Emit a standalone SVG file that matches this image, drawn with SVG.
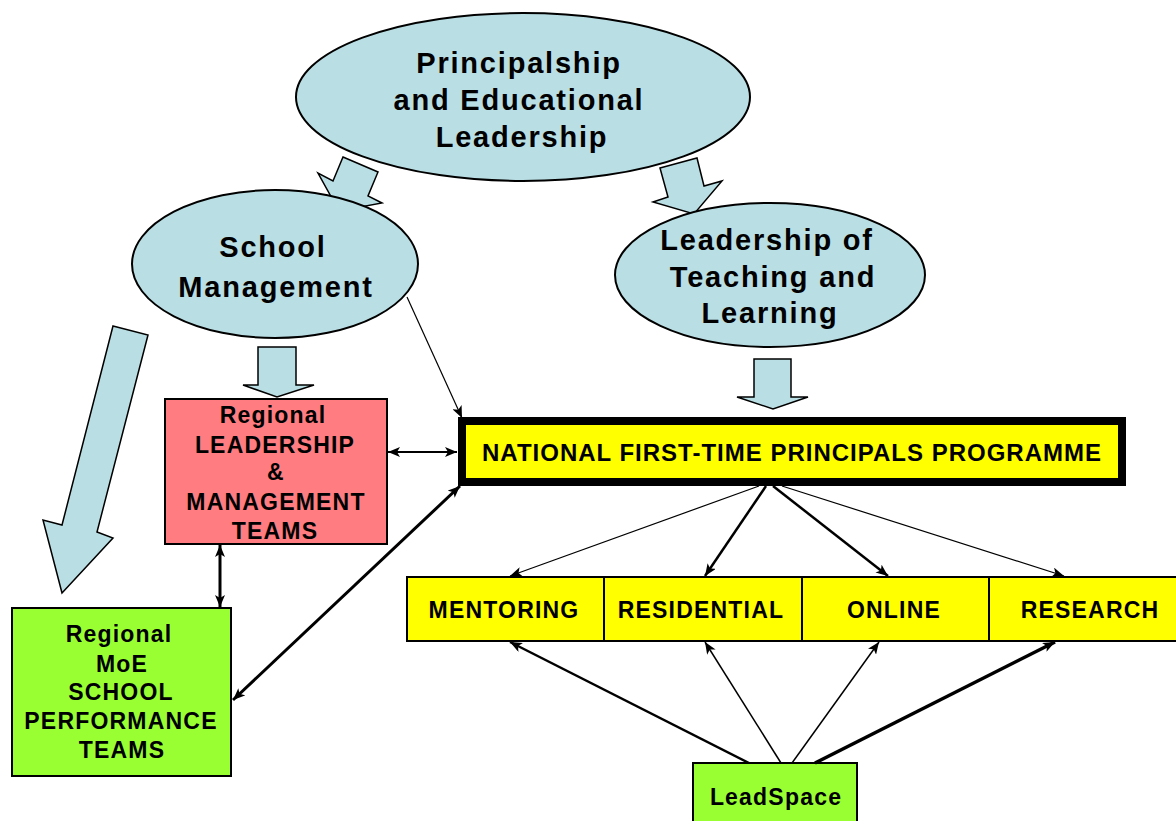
<svg xmlns="http://www.w3.org/2000/svg" width="1176" height="821" viewBox="0 0 1176 821">
<style>
.ell{fill:#B9DEE3;stroke:#000;stroke-width:2}
.blk{fill:#B9DEE3;stroke:#000;stroke-width:1.5;stroke-linejoin:miter}
.big{font-family:"Liberation Sans",Arial,sans-serif;font-weight:bold;font-size:29px;letter-spacing:1.8px;text-anchor:middle;fill:#000}
.sm{font-family:"Liberation Sans",Arial,sans-serif;font-weight:bold;font-size:23px;letter-spacing:1.2px;text-anchor:middle;fill:#000}
.box{stroke:#000;stroke-width:2}
.ln{fill:none;stroke:#000}
</style>
<defs>
<marker id="ah" viewBox="0 0 12 10" refX="12" refY="5" markerWidth="12" markerHeight="10" markerUnits="userSpaceOnUse" orient="auto-start-reverse">
<path d="M0,0 L12,5 L0,10 L3,5 z" fill="#000"/>
</marker>
</defs>

<g id="blockarrows">
<polygon class="blk" points="343,157 378,172 368,196 382,203 339,211 318,173 333,181"/>
<polygon class="blk" points="660,168 697,158 704,186 722,181 694,214 653,202 668,197"/>
<polygon class="blk" points="258,347 296,347 296,385 314,385 277,397 243,385 258,385"/>
<polygon class="blk" points="754,359 791,359 791,397 808,397 773,409 737,397 754,397"/>
<polygon class="blk" points="113,326 148,335 97,532 113,538 62,593 43,520 62,525"/>
</g>

<g id="principalship">
<ellipse class="ell" cx="523" cy="97" rx="227" ry="84"/>
<text class="big" x="519" y="73">Principalship</text>
<text class="big" x="519" y="110">and Educational</text>
<text class="big" x="522" y="147">Leadership</text>
</g>

<g id="school-management">
<ellipse class="ell" cx="275" cy="264" rx="143" ry="74"/>
<text class="big" x="273" y="257">School</text>
<text class="big" x="276" y="297">Management</text>
</g>

<g id="leadership-tl">
<ellipse class="ell" cx="770" cy="275" rx="155" ry="72"/>
<text class="big" x="767" y="250">Leadership of</text>
<text class="big" x="773" y="287">Teaching and</text>
<text class="big" x="770" y="323">Learning</text>
</g>

<g id="regional-leadership">
<rect class="box" x="165" y="399" width="222" height="145" fill="#FF7C80"/>
<text class="sm" x="273" y="423">Regional</text>
<text class="sm" x="275" y="453">LEADERSHIP</text>
<text class="sm" x="276" y="480">&amp;</text>
<text class="sm" x="276" y="510">MANAGEMENT</text>
<text class="sm" x="275" y="539">TEAMS</text>
</g>

<g id="regional-moe">
<rect class="box" x="12" y="608" width="219" height="168" fill="#99FF33"/>
<text class="sm" x="119" y="642">Regional</text>
<text class="sm" x="122" y="672">MoE</text>
<text class="sm" x="121" y="700">SCHOOL</text>
<text class="sm" x="121" y="729">PERFORMANCE</text>
<text class="sm" x="122" y="758">TEAMS</text>
</g>

<g id="nftpp">
<rect x="462" y="421" width="660" height="61" fill="#FFFF00" stroke="#000" stroke-width="8"/>
<text class="sm" x="792" y="461" style="font-size:24px;letter-spacing:1px">NATIONAL FIRST-TIME PRINCIPALS PROGRAMME</text>
</g>

<g id="mentoring">
<rect class="box" x="407" y="577" width="197" height="64" fill="#FFFF00"/>
<text class="sm" x="504" y="618">MENTORING</text>
</g>
<g id="residential">
<rect class="box" x="604" y="577" width="198" height="64" fill="#FFFF00"/>
<text class="sm" x="701" y="618">RESIDENTIAL</text>
</g>
<g id="online">
<rect class="box" x="802" y="577" width="187" height="64" fill="#FFFF00"/>
<text class="sm" x="894" y="618">ONLINE</text>
</g>
<g id="research">
<rect class="box" x="989" y="577" width="200" height="64" fill="#FFFF00"/>
<text class="sm" x="1090" y="618">RESEARCH</text>
</g>

<g id="leadspace">
<rect class="box" x="693" y="763" width="164" height="70" fill="#99FF33"/>
<text class="sm" x="776" y="805">LeadSpace</text>
</g>

<g id="connectors">
<path class="ln" d="M407,297 L462,418" stroke-width="1.2" marker-end="url(#ah)"/>
<path class="ln" d="M388,452 L457,452" stroke-width="2" marker-start="url(#ah)" marker-end="url(#ah)"/>
<path class="ln" d="M220,545 L220,607" stroke-width="3" marker-start="url(#ah)" marker-end="url(#ah)"/>
<path class="ln" d="M460,486 L233,700" stroke-width="3" marker-start="url(#ah)" marker-end="url(#ah)"/>
<path class="ln" d="M759,486 L510,576" stroke-width="1.2" marker-end="url(#ah)"/>
<path class="ln" d="M766,486 L705,576" stroke-width="2.5" marker-end="url(#ah)"/>
<path class="ln" d="M773,486 L888,576" stroke-width="2.5" marker-end="url(#ah)"/>
<path class="ln" d="M782,486 L1064,576" stroke-width="1.2" marker-end="url(#ah)"/>
<path class="ln" d="M749,763 L510,642" stroke-width="2.5" marker-end="url(#ah)"/>
<path class="ln" d="M781,763 L705,642" stroke-width="1.5" marker-end="url(#ah)"/>
<path class="ln" d="M792,763 L879,642" stroke-width="1.5" marker-end="url(#ah)"/>
<path class="ln" d="M815,763 L1055,642" stroke-width="3.5" marker-end="url(#ah)"/>
</g>
</svg>
